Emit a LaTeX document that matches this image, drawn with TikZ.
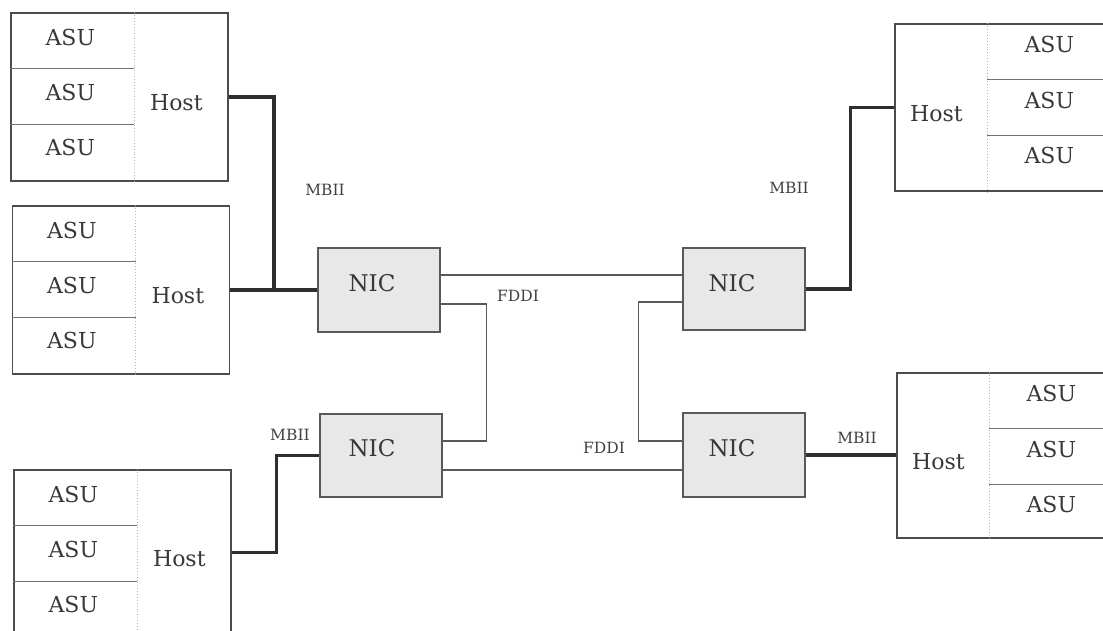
\documentclass[tikz,border=0pt]{standalone}
\usepackage{fontspec}
\setmainfont{DejaVu Serif}
\usetikzlibrary{calc}
\tikzset{
  hostbox/.style={draw=black!70, line width=1.3pt, rectangle, minimum width=217pt, inner sep=0pt},
  nicbox/.style={draw=black!65, line width=1.3pt, fill=black!9, rectangle, minimum width=122pt, minimum height=83pt, inner sep=0pt},
  txt/.style={text=black!78, font=\fontsize{22}{24}\selectfont, inner sep=0pt},
  nictxt/.style={text=black!78, font=\fontsize{23}{25}\selectfont, inner sep=0pt},
  lbl/.style={text=black!75, font=\fontsize{15.5}{17}\selectfont, inner sep=0pt},
  bus/.style={draw=black!82, line width=3.6pt},
  ring/.style={draw=black!65, line width=1.3pt},
  hsep/.style={draw=black!55, line width=0.9pt},
  vsep/.style={draw=black!30, line width=0.9pt, dotted},
}
\newcommand{\unitsleft}[1]{%
  \draw[vsep] ($(#1.north west)+(124,0)$) -- ($(#1.south west)+(124,0)$);
  \draw[hsep] ($(#1.north west)+(0,56)$) -- ++(124,0);
  \draw[hsep] ($(#1.north west)+(0,112)$) -- ++(124,0);
  \node[txt] (#1a1) at ($(#1.north west)+(60,25)$) {ASU};
  \node[txt] (#1a2) at ($(#1.north west)+(60,80)$) {ASU};
  \node[txt] (#1a3) at ($(#1.north west)+(60,135)$) {ASU};
  \node[txt] (#1t) at ($(#1.west)+(166,6)$) {Host};
}
\newcommand{\unitsright}[1]{%
  \draw[vsep] ($(#1.north west)+(93,0)$) -- ($(#1.south west)+(93,0)$);
  \draw[hsep] ($(#1.north west)+(93,56)$) -- ++(124,0);
  \draw[hsep] ($(#1.north west)+(93,112)$) -- ++(124,0);
  \node[txt] (#1a1) at ($(#1.north west)+(155,21)$) {ASU};
  \node[txt] (#1a2) at ($(#1.north west)+(155,77)$) {ASU};
  \node[txt] (#1a3) at ($(#1.north west)+(155,132)$) {ASU};
  \node[txt] (#1t) at ($(#1.west)+(42,6)$) {Host};
}
\begin{document}
\begin{tikzpicture}[x=1pt,y=-1pt]
\useasboundingbox (0,0) rectangle (1103,631);
% hosts
\node[hostbox, minimum height=168pt] (h1) at (119.5,97) {};
\node[hostbox, minimum height=168pt] (h2) at (121,290) {};
\node[hostbox, minimum height=165pt] (h3) at (122.5,552.5) {};
\node[hostbox, minimum height=167pt] (h4) at (1003.5,107.5) {};
\node[hostbox, minimum height=165pt] (h5) at (1005.5,455.5) {};
\unitsleft{h1}
\unitsleft{h2}
\unitsleft{h3}
\unitsright{h4}
\unitsright{h5}
% NICs
\node[nicbox, minimum height=84pt] (n1) at (379,290) {};
\node[nicbox] (n2) at (381,455.5) {};
\node[nicbox, minimum height=82pt] (r1) at (744,289) {};
\node[nicbox, minimum height=84pt] (r2) at (744,455) {};
\node[nictxt] (n1t) at (372,283) {NIC};
\node[nictxt] (n2t) at (372,448) {NIC};
\node[nictxt] (r1t) at (732,283) {NIC};
\node[nictxt] (r2t) at (732,448) {NIC};
% MBII buses
\coordinate (j1) at (274,290);
\draw[bus] (h2.east) -- (n1.west);
\draw[bus] (h1.east) -| (j1);
\draw[bus] (n2.west) -- ++(-43,0) |- (h3.east);
\draw[bus] (r1.east) -- ++(45,0) |- (h4.west);
\draw[bus] (r2.east) -- (r2.east -| h5.west);
% FDDI ring
\draw[ring] ([yshift=15pt]n1.east) -- ([yshift=15pt]n1.east -| r1.west);
\draw[ring] ([yshift=-14pt]n1.east) -- ++(46,0) |- ([yshift=14.5pt]n2.east);
\draw[ring] ([yshift=-14.5pt]n2.east) -- ([yshift=-14.5pt]n2.east -| r2.west);
\draw[ring] ([yshift=-13pt]r1.west) -- ++(-44,0) |- ([yshift=14pt]r2.west);
% labels
\node[lbl] (m1) at (325,190) {MBII};
\node[lbl] (m2) at (789,188) {MBII};
\node[lbl] (m3) at (290,435) {MBII};
\node[lbl] (m4) at (857,438) {MBII};
\node[lbl] (f1) at (518,296) {FDDI};
\node[lbl] (f2) at (604,448) {FDDI};
\end{tikzpicture}
\end{document}
